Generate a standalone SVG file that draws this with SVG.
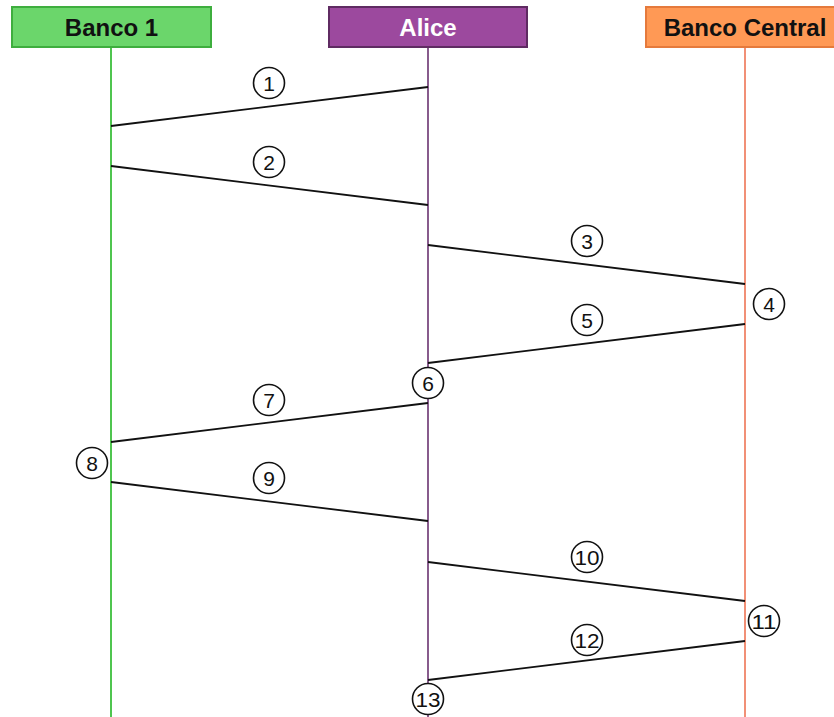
<svg xmlns="http://www.w3.org/2000/svg" width="834" height="717" viewBox="0 0 834 717">
  <style>
    .hdr { font-family: "Liberation Sans", Arial, sans-serif; font-size: 24px; font-weight: bold; text-anchor: middle; }
    .msg { stroke: #111; stroke-width: 1.8; fill: none; }
    .step circle { fill: #fff; stroke: #111; stroke-width: 1.6; }
    .step text { font-family: "Liberation Sans", Arial, sans-serif; font-size: 21px; text-anchor: middle; fill: #111; }
  </style>
  <rect width="834" height="717" fill="#fff"/>

  <!-- lifelines -->
  <g id="lifelines">
    <line x1="111" y1="47" x2="111" y2="717" stroke="#3cbf3c" stroke-width="1.8"/>
    <line x1="428" y1="47" x2="428" y2="717" stroke="#7b4a80" stroke-width="1.8"/>
    <line x1="745" y1="47" x2="745" y2="717" stroke="#f08468" stroke-width="1.8"/>
  </g>

  <!-- participants -->
  <g id="banco1">
    <rect x="12" y="7" width="199" height="40" fill="#6bd66b" stroke="#3eae3e" stroke-width="2"/>
    <text class="hdr" x="111.5" y="36" fill="#111">Banco 1</text>
  </g>
  <g id="alice">
    <rect x="329" y="7" width="198" height="40" fill="#9c499e" stroke="#5f2b62" stroke-width="2"/>
    <text class="hdr" x="428" y="36" fill="#fff">Alice</text>
  </g>
  <g id="banco-central">
    <rect x="646" y="7" width="198" height="40" fill="#ff9955" stroke="#e57a3c" stroke-width="2"/>
    <text class="hdr" x="745" y="36" fill="#111">Banco Central</text>
  </g>

  <!-- messages -->
  <g id="connectors">
    <line class="msg" x1="111" y1="126" x2="428" y2="87"/>
    <line class="msg" x1="111" y1="166" x2="428" y2="205"/>
    <line class="msg" x1="428" y1="245" x2="745" y2="284"/>
    <line class="msg" x1="745" y1="324" x2="428" y2="363"/>
    <line class="msg" x1="428" y1="403" x2="111" y2="442"/>
    <line class="msg" x1="111" y1="482" x2="428" y2="521"/>
    <line class="msg" x1="428" y1="562" x2="745" y2="601"/>
    <line class="msg" x1="745" y1="641" x2="428" y2="680"/>
  </g>

  <!-- step markers -->
  <g id="step1" class="step"><circle cx="269" cy="83" r="15.5"/><text x="269" y="90.5">1</text></g>
  <g id="step2" class="step"><circle cx="269" cy="162" r="15.5"/><text x="269" y="169.5">2</text></g>
  <g id="step3" class="step"><circle cx="587" cy="241" r="15.5"/><text x="587" y="248.5">3</text></g>
  <g id="step4" class="step"><circle cx="769" cy="304" r="15.5"/><text x="769" y="311.5">4</text></g>
  <g id="step5" class="step"><circle cx="587" cy="320" r="15.5"/><text x="587" y="327.5">5</text></g>
  <g id="step6" class="step"><circle cx="428" cy="383" r="15.5"/><text x="428" y="390.5">6</text></g>
  <g id="step7" class="step"><circle cx="269" cy="400" r="15.5"/><text x="269" y="407.5">7</text></g>
  <g id="step8" class="step"><circle cx="92" cy="463" r="15.5"/><text x="92" y="470.5">8</text></g>
  <g id="step9" class="step"><circle cx="269" cy="478" r="15.5"/><text x="269" y="485.5">9</text></g>
  <g id="step10" class="step"><circle cx="587" cy="557" r="15.5"/><text x="587" y="564.5" textLength="25" lengthAdjust="spacingAndGlyphs">10</text></g>
  <g id="step11" class="step"><circle cx="764" cy="621" r="15.5"/><text x="764" y="628.5" textLength="25" lengthAdjust="spacingAndGlyphs">11</text></g>
  <g id="step12" class="step"><circle cx="587" cy="640" r="15.5"/><text x="587" y="647.5" textLength="25" lengthAdjust="spacingAndGlyphs">12</text></g>
  <g id="step13" class="step"><circle cx="428" cy="699" r="15.5"/><text x="428" y="706.5" textLength="25" lengthAdjust="spacingAndGlyphs">13</text></g>
</svg>
